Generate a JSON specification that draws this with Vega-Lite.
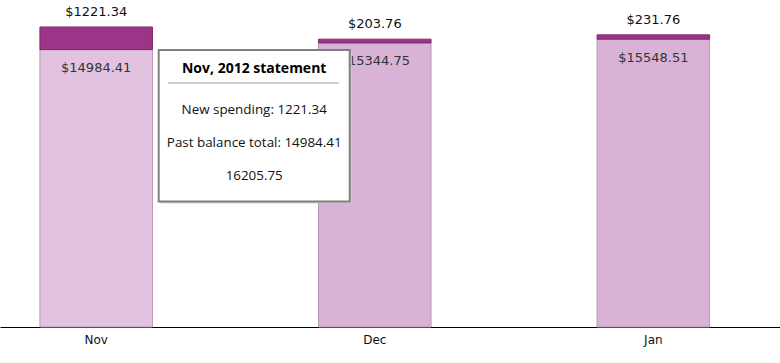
{
  "$schema": "https://vega.github.io/schema/vega-lite/v6.json",
  "width": 780,
  "height": 327,
  "autosize": {"type": "none"},
  "padding": {"left": 0, "top": 0, "right": 0, "bottom": 36},
  "background": "#ffffff",
  "config": {"view": {"stroke": null}},
  "datasets": {
    "bars": [
      {"month": "Nov", "segment": "Past balance", "amount": 14984.41},
      {"month": "Nov", "segment": "New spending", "amount": 1221.34},
      {"month": "Dec", "segment": "Past balance", "amount": 15344.75},
      {"month": "Dec", "segment": "New spending", "amount": 203.76},
      {"month": "Jan", "segment": "Past balance", "amount": 15548.51},
      {"month": "Jan", "segment": "New spending", "amount": 231.76}
    ],
    "tip": [
      {"month": "Nov", "anchor": 14984.41, "title": "Nov, 2012 statement", "body": "New spending: 1221.34\nPast balance total: 14984.41\n16205.75"}
    ]
  },
  "encoding": {
    "x": {
      "field": "month", "type": "nominal", "sort": ["Nov", "Dec", "Jan"],
      "scale": {"paddingInner": 0.596, "paddingOuter": 0.198, "align": 0.362},
      "axis": {"title": null, "ticks": false, "labelAngle": 0, "domainColor": "#000000", "domainWidth": 1, "labelFont": "DejaVu Sans", "labelFontSize": 12, "labelColor": "#111111", "labelPadding": 7}
    }
  },
  "layer": [
    {
      "data": {"name": "bars"},
      "transform": [
        {"stack": "amount", "groupby": ["month"], "sort": [{"field": "segment", "order": "descending"}], "as": ["y0", "y1"]}
      ],
      "layer": [
        {
          "mark": {"type": "bar", "strokeWidth": 1},
          "encoding": {
            "y": {"field": "y1", "type": "quantitative", "scale": {"domain": [0, 17664], "nice": false, "zero": true}, "axis": null},
            "y2": {"field": "y0"},
            "fill": {"field": "segment", "type": "nominal", "scale": {"domain": ["Past balance", "New spending"], "range": ["#d9b3d6", "#9c3587"]}, "legend": null},
            "stroke": {"field": "segment", "type": "nominal", "scale": {"domain": ["Past balance", "New spending"], "range": ["#bb98b7", "#7d2a6d"]}, "legend": null},
            "fillOpacity": {
              "condition": {"test": "datum.month === 'Nov' && datum.segment === 'Past balance'", "value": 0.79},
              "value": 1
            }
          }
        },
        {
          "transform": [{"filter": {"field": "segment", "equal": "New spending"}}],
          "mark": {"type": "text", "font": "DejaVu Sans", "fontSize": 13, "color": "#111111", "baseline": "middle", "dy": -15},
          "encoding": {
            "y": {"field": "y1", "type": "quantitative"},
            "text": {"field": "amount", "type": "quantitative", "format": "$.2f"}
          }
        },
        {
          "transform": [{"filter": {"field": "segment", "equal": "Past balance"}}],
          "mark": {"type": "text", "font": "DejaVu Sans", "fontSize": 13, "color": "#333333", "baseline": "middle", "dy": 18.5},
          "encoding": {
            "y": {"field": "y1", "type": "quantitative"},
            "text": {"field": "amount", "type": "quantitative", "format": "$.2f"}
          }
        }
      ]
    },
    {
      "data": {"name": "tip"},
      "layer": [
        {
          "mark": {"type": "bar", "width": 192, "xOffset": 160, "yOffset": 2, "y2Offset": 154, "fill": "#cccccc", "opacity": 0.8},
          "encoding": {"y": {"field": "anchor", "type": "quantitative", "stack": null}, "y2": {"field": "anchor"}}
        },
        {
          "mark": {"type": "bar", "width": 191, "xOffset": 158, "yOffset": 0.5, "y2Offset": 152, "fill": "#ffffff", "stroke": "#7f7f7f", "strokeWidth": 2},
          "encoding": {"y": {"field": "anchor", "type": "quantitative", "stack": null}, "y2": {"field": "anchor"}}
        },
        {
          "mark": {"type": "bar", "width": 171, "xOffset": 157.5, "yOffset": 33, "y2Offset": 34, "fill": "#a0a0a0"},
          "encoding": {"y": {"field": "anchor", "type": "quantitative", "stack": null}, "y2": {"field": "anchor"}}
        },
        {
          "mark": {"type": "text", "font": "Open Sans", "fontSize": 14, "fontWeight": "bold", "color": "#000000", "baseline": "middle", "dx": 158, "dy": 19.5},
          "encoding": {"y": {"field": "anchor", "type": "quantitative"}, "text": {"field": "title"}}
        },
        {
          "mark": {"type": "text", "font": "Open Sans", "fontSize": 13.4, "color": "#111111", "baseline": "middle", "lineBreak": "\n", "lineHeight": 33, "dx": 158, "dy": 60},
          "encoding": {"y": {"field": "anchor", "type": "quantitative"}, "text": {"field": "body"}}
        }
      ]
    }
  ]
}
